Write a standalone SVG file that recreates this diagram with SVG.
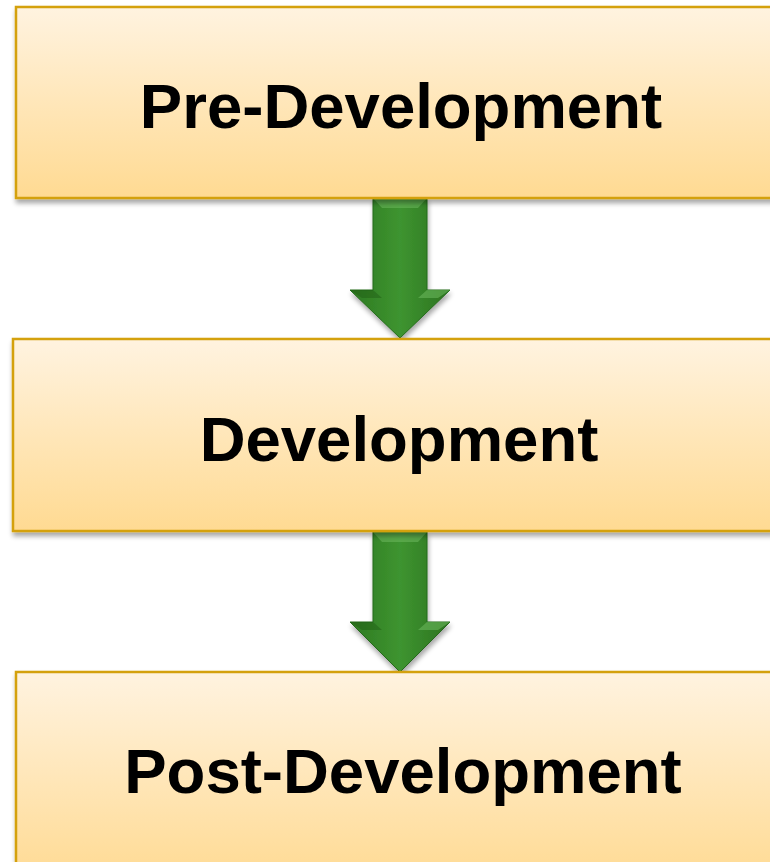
<svg xmlns="http://www.w3.org/2000/svg" width="770" height="862" viewBox="0 0 770 862">
<defs>
<linearGradient id="boxg" x1="0" y1="0" x2="0" y2="1">
<stop offset="0" stop-color="#FFF3E0"/>
<stop offset="1" stop-color="#FFDA92"/>
</linearGradient>
<linearGradient id="arrg" x1="0" y1="0" x2="1" y2="0">
<stop offset="0" stop-color="#2E7A22"/>
<stop offset="0.5" stop-color="#3E9430"/>
<stop offset="1" stop-color="#2C7320"/>
</linearGradient>
<filter id="sh" x="-10%" y="-10%" width="120%" height="130%">
<feGaussianBlur in="SourceAlpha" stdDeviation="2.5"/>
<feOffset dx="1" dy="4"/>
<feComponentTransfer><feFuncA type="linear" slope="0.35"/></feComponentTransfer>
<feMerge><feMergeNode/><feMergeNode in="SourceGraphic"/></feMerge>
</filter>
</defs>
<style>
.box{fill:url(#boxg);stroke:#D4A10E;stroke-width:2.5;filter:url(#sh)}
.lbl{font-family:"Liberation Sans",Arial,sans-serif;font-weight:bold;font-size:63.5px;fill:#000;text-anchor:middle}
.arr{fill:url(#arrg);stroke:#256B1B;stroke-width:1;filter:url(#sh)}
.hl{fill:#6DBA5E;opacity:0.55}
.dk{fill:#1E5A14;opacity:0.45}
</style>
<g id="connectors">
<g id="arrow1">
<path class="arr" d="M373,198 L427,198 L427,290 L450,290 L400,338 L350,290 L373,290 Z"/>
<path class="hl" d="M373,198 L427,198 L418,208 L382,208 Z"/>
<path class="dk" d="M350,290 L373,290 L382,298 L362,298 Z"/>
<path class="hl" d="M427,290 L450,290 L438,298 L418,298 Z"/>
</g>
<g id="arrow2">
<path class="arr" d="M373,532 L427,532 L427,622 L450,622 L400,672 L350,622 L373,622 Z"/>
<path class="hl" d="M373,532 L427,532 L418,542 L382,542 Z"/>
<path class="dk" d="M350,622 L373,622 L382,630 L362,630 Z"/>
<path class="hl" d="M427,622 L450,622 L438,630 L418,630 Z"/>
</g>
</g>
<g id="node-pre">
<rect class="box" x="16" y="7" width="770" height="191"/>
<text class="lbl" x="401" y="128">Pre-Development</text>
</g>
<g id="node-dev">
<rect class="box" x="13" y="339" width="770" height="192"/>
<text class="lbl" x="399" y="461">Development</text>
</g>
<g id="node-post">
<rect class="box" x="16" y="672" width="770" height="210"/>
<text class="lbl" x="403" y="793">Post-Development</text>
</g>
</svg>
